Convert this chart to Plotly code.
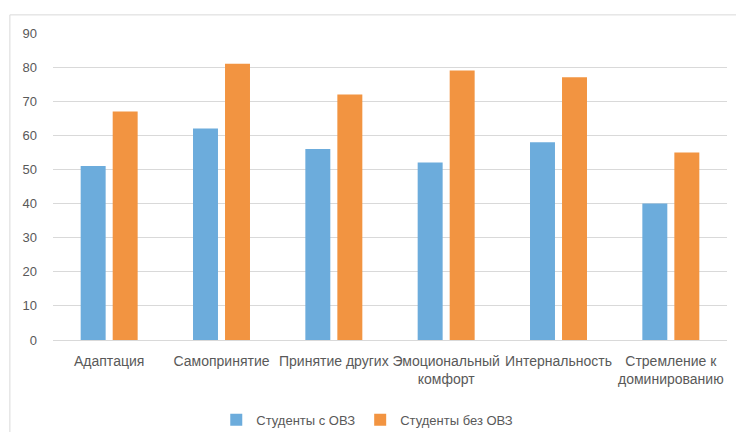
import plotly.graph_objects as go

categories = ["Адаптация", "Самопринятие", "Принятие других", "Эмоциональный<br>комфорт",
              "Интернальность", "Стремление к<br>доминированию"]
with_ovz = [51, 62, 56, 52, 58, 40]
without_ovz = [67, 81, 72, 79, 77, 55]
series_names = ["Студенты с ОВЗ", "Студенты без ОВЗ"]
y_ticks = [0, 10, 20, 30, 40, 50, 60, 70, 80, 90]

font_family = "Liberation Sans, Arial, sans-serif"
text_color = "#595959"
grid_color = "#d9d9d9"

fig = go.Figure()
fig.add_trace(go.Bar(x=categories, y=with_ovz, name=series_names[0],
                     marker=dict(color="#6CACDC", line=dict(width=0))))
fig.add_trace(go.Bar(x=categories, y=without_ovz, name=series_names[1],
                     marker=dict(color="#F29441", line=dict(width=0))))

fig.update_layout(
    width=736, height=432,
    margin=dict(l=53, r=9, t=33, b=92),
    paper_bgcolor="white", plot_bgcolor="white",
    barmode="group", bargap=0.43, bargroupgap=0.22,
    font=dict(family=font_family, size=14, color=text_color),
    showlegend=True,
    legend=dict(orientation="h", xref="container", yref="container",
                x=0.499, xanchor="center", y=0.028, yanchor="middle",
                font=dict(size=13, color=text_color), itemwidth=30,
                traceorder="normal"),
    xaxis=dict(showgrid=False, showline=False, ticks="", tickfont=dict(size=14),
               tickangle=0, automargin=False, ticklabelstandoff=11),
    yaxis=dict(range=[0, 90], tickvals=y_ticks, showgrid=True, gridcolor=grid_color,
               gridwidth=1, zeroline=True, zerolinecolor=grid_color, zerolinewidth=1,
               showline=False, ticks="", ticklabelstandoff=15, tickfont=dict(size=13),
               automargin=False),
    shapes=[dict(type="rect", xref="paper", yref="paper",
                 x0=-0.064, x1=1.2, y0=-0.6, y1=1.059,
                 line=dict(color=grid_color, width=1), fillcolor="rgba(0,0,0,0)",
                 layer="below")],
)

fig.write_html("out.html", config={"displayModeBar": False},
               post_script="document.body.style.margin='0';document.body.style.overflow='hidden';")
